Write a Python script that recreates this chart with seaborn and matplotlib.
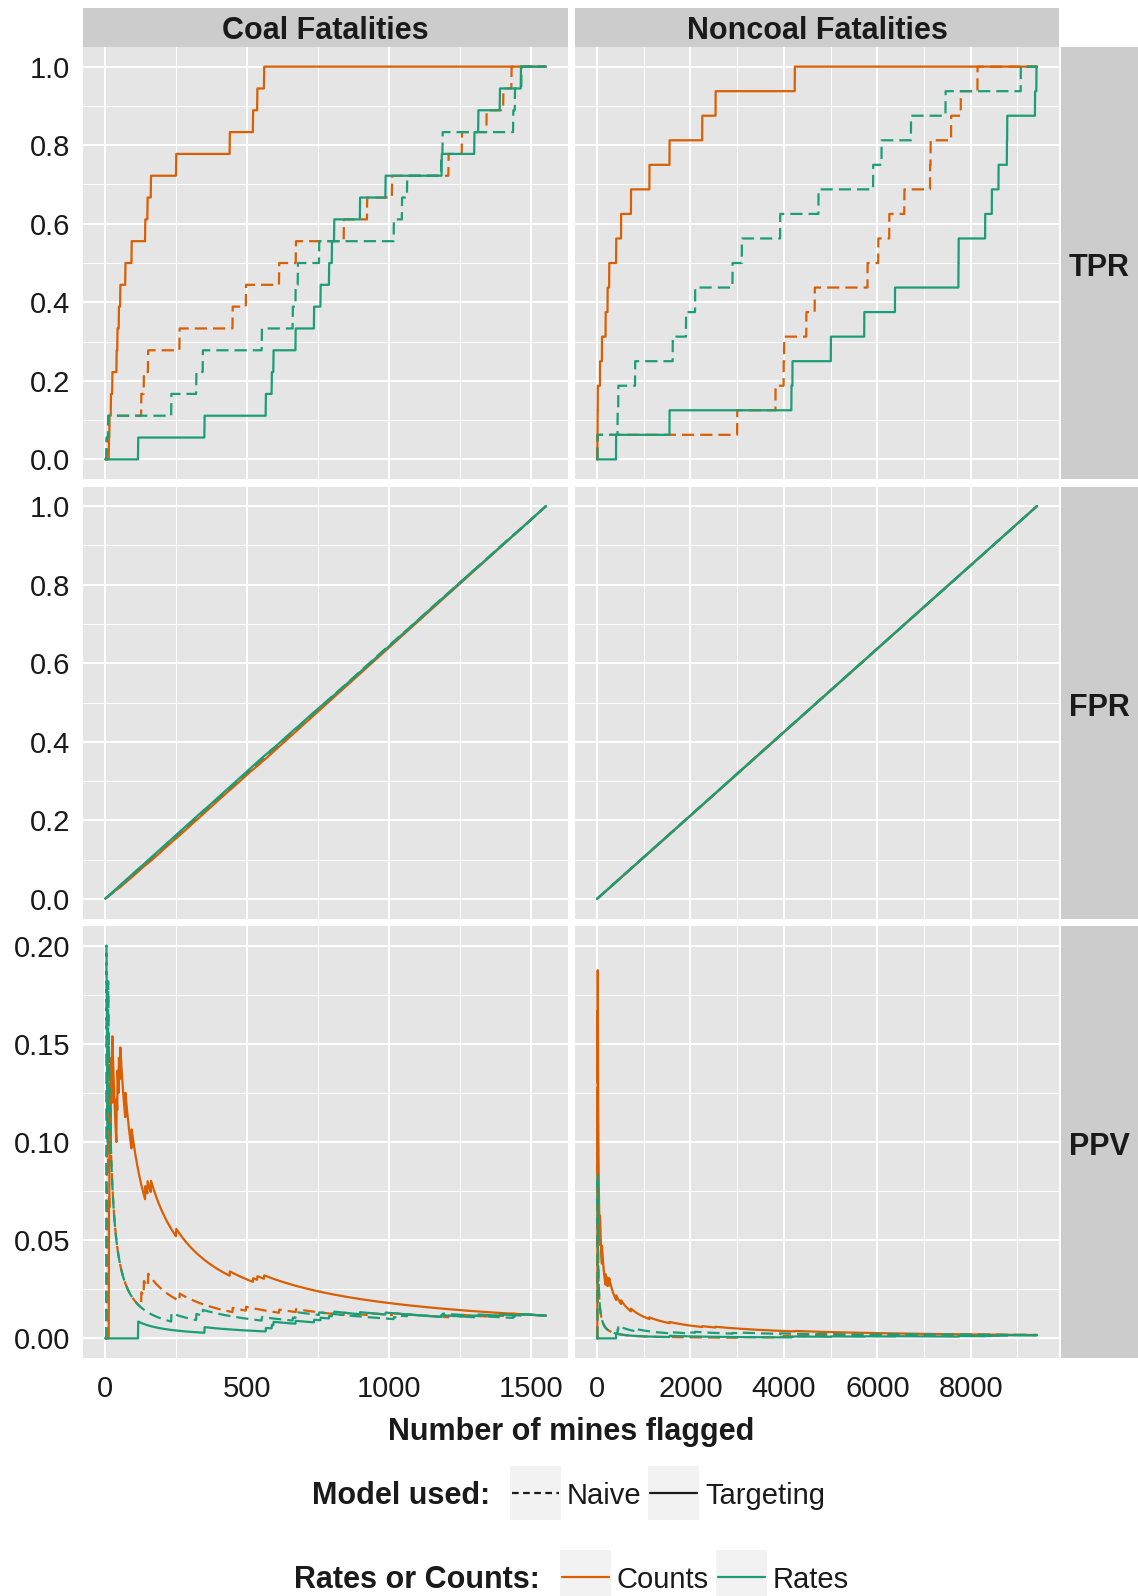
import numpy as np
import pandas as pd
import matplotlib
matplotlib.use("Agg")
import matplotlib.pyplot as plt
import seaborn as sns
from matplotlib.patches import Rectangle

# --- Data ---
# total mines per facet and the rank (number of mines flagged) at which
# each mine with a fatality is reached, per model / outcome type
facets = ["Coal Fatalities", "Noncoal Fatalities"]
n_mines = {"Coal Fatalities": 1554, "Noncoal Fatalities": 9418}

coal_targeting_counts = [14, 16, 21, 26, 41, 44, 49, 54, 72, 94, 142, 150, 162,
                         251, 440, 522, 537, 561]
coal_naive_counts = [7, 13, 128, 137, 152, 263, 450, 497, 614, 673, 842, 924,
                     1012, 1211, 1258, 1345, 1404, 1433]
coal_naive_rates = [5, 11, 234, 322, 345, 553, 662, 672, 680, 755, 1018, 1047,
                    1065, 1185, 1190, 1439, 1445, 1468]
coal_targeting_rates = [117, 351, 567, 588, 594, 672, 737, 760, 790, 800, 808,
                        899, 989, 1187, 1302, 1316, 1392, 1466]

noncoal_targeting_counts = [8, 12, 16, 64, 106, 184, 226, 261, 410, 515, 727,
                            1122, 1552, 2252, 2538, 4233]
noncoal_naive_counts = [7, 3000, 3820, 3995, 4005, 4480, 4660, 5790, 6020,
                        6256, 6578, 7129, 7140, 7579, 7786, 8144]
noncoal_naive_rates = [12, 440, 455, 815, 1620, 1905, 2100, 2900, 3100, 3920,
                       4740, 5910, 6090, 6720, 7460, 9070]
noncoal_targeting_rates = [408, 1552, 4161, 4183, 5005, 5720, 6378, 7736, 7740,
                           8308, 8451, 8594, 8773, 8780, 9375, 9405]

hits = {
    ("Coal Fatalities", "Naive", "Counts"): coal_naive_counts,
    ("Coal Fatalities", "Targeting", "Counts"): coal_targeting_counts,
    ("Coal Fatalities", "Naive", "Rates"): coal_naive_rates,
    ("Coal Fatalities", "Targeting", "Rates"): coal_targeting_rates,
    ("Noncoal Fatalities", "Naive", "Counts"): noncoal_naive_counts,
    ("Noncoal Fatalities", "Targeting", "Counts"): noncoal_targeting_counts,
    ("Noncoal Fatalities", "Naive", "Rates"): noncoal_naive_rates,
    ("Noncoal Fatalities", "Targeting", "Rates"): noncoal_targeting_rates,
}

metrics = ["TPR", "FPR", "PPV"]
x_ticks = {"Coal Fatalities": [0, 500, 1000, 1500],
           "Noncoal Fatalities": [0, 2000, 4000, 6000, 8000]}
x_minor = {"Coal Fatalities": [250, 750, 1250],
           "Noncoal Fatalities": [1000, 3000, 5000, 7000, 9000]}
y_ticks = {"TPR": [0, 0.2, 0.4, 0.6, 0.8, 1.0],
           "FPR": [0, 0.2, 0.4, 0.6, 0.8, 1.0],
           "PPV": [0, 0.05, 0.10, 0.15, 0.20]}
y_labels = {"TPR": ["0.0", "0.2", "0.4", "0.6", "0.8", "1.0"],
            "FPR": ["0.0", "0.2", "0.4", "0.6", "0.8", "1.0"],
            "PPV": ["0.00", "0.05", "0.10", "0.15", "0.20"]}
y_minor = {"TPR": [0.1, 0.3, 0.5, 0.7, 0.9],
           "FPR": [0.1, 0.3, 0.5, 0.7, 0.9],
           "PPV": [0.025, 0.075, 0.125, 0.175]}

# --- build long table: TPR / FPR / PPV as mines are flagged one by one ---
rows = []
for (facet, model, kind), ranks in hits.items():
    n = n_mines[facet]
    k = np.arange(1, n + 1)
    hit = np.zeros(n)
    hit[np.array(ranks) - 1] = 1
    tp = np.cumsum(hit)
    p = len(ranks)
    rows.append(pd.DataFrame({
        "facet": facet, "model": model, "kind": kind, "flagged": k,
        "TPR": tp / p, "FPR": (k - tp) / (n - p), "PPV": tp / k,
    }))
df = pd.concat(rows, ignore_index=True)

# --- style ---
sns.set_theme(style="darkgrid")
plt.rcParams["font.family"] = ["Liberation Sans", "DejaVu Sans"]

palette = {"Counts": "#D95F02", "Rates": "#1B9E77"}
dashes = {"Naive": (5.5, 2.7), "Targeting": ""}
W, H = 1138, 1596
fig = plt.figure(figsize=(W / 100, H / 100), dpi=100)

# overlay in pixel coords for strips and legends
ov = fig.add_axes([0, 0, 1, 1], zorder=-1)
ov.set_xlim(0, W)
ov.set_ylim(H, 0)
ov.axis("off")

col_x = [(83, 568), (575, 1059)]
row_y = [(47, 479), (486.5, 918.5), (926, 1358)]

for r, metric in enumerate(metrics):
    for c, facet in enumerate(facets):
        x0, x1 = col_x[c]
        y0, y1 = row_y[r]
        ax = fig.add_axes([x0 / W, 1 - y1 / H, (x1 - x0) / W, (y1 - y0) / H])
        sub = df[df["facet"] == facet]
        sns.lineplot(data=sub, x="flagged", y=metric, hue="kind", style="model",
                     hue_order=["Counts", "Rates"], style_order=["Naive", "Targeting"],
                     palette=palette, dashes=dashes, estimator=None, sort=False,
                     linewidth=1.6, legend=False, ax=ax)
        n = n_mines[facet]
        ax.set_xlim(-0.05 * n, 1.05 * n)
        if metric == "PPV":
            ax.set_ylim(-0.01, 0.21)
        else:
            ax.set_ylim(-0.05, 1.05)
        ax.set_facecolor("#E5E5E5")
        ax.set_xticks(x_ticks[facet])
        ax.set_xticks(x_minor[facet], minor=True)
        ax.set_yticks(y_ticks[metric])
        ax.set_yticklabels(y_labels[metric])
        ax.set_yticks(y_minor[metric], minor=True)
        ax.grid(which="major", color="white", linewidth=1.4)
        ax.grid(which="minor", color="white", linewidth=0.7)
        ax.set_axisbelow(True)
        for s in ax.spines.values():
            s.set_visible(False)
        ax.set_xlabel("")
        ax.set_ylabel("")
        ax.tick_params(which="major", length=5, width=1.1, color="#666666",
                       labelsize=21, labelcolor="#1A1A1A", pad=4)
        ax.tick_params(axis="x", pad=7)
        ax.tick_params(which="minor", length=0)
        if r < 2:
            ax.tick_params(axis="x", bottom=False, labelbottom=False)
        if c == 1:
            ax.tick_params(axis="y", left=False, labelleft=False)

# facet strips
for c, facet in enumerate(facets):
    x0, x1 = col_x[c]
    ov.add_patch(Rectangle((x0, 8), x1 - x0, 39, color="#CCCCCC", lw=0))
    ov.text((x0 + x1) / 2, 31, facet, ha="center", va="center",
            fontsize=22, fontweight="bold", color="#1A1A1A")
for r, metric in enumerate(metrics):
    y0, y1 = row_y[r]
    ov.add_patch(Rectangle((1061, y0), W - 1061, y1 - y0, color="#CCCCCC", lw=0))
    ov.text(1099, (y0 + y1) / 2 + 5, metric, ha="center", va="center",
            fontsize=22, fontweight="bold", color="#1A1A1A")

# axis title
ov.text(571, 1432, "Number of mines flagged", ha="center", va="center",
        fontsize=22, fontweight="bold", color="#1A1A1A")

# legends
def legend_row(yc, title, title_right, keys):
    base = yc + 10.5
    ov.text(title_right, base, title, ha="right", va="baseline",
            fontsize=22, fontweight="bold", color="#1A1A1A")
    for kx, label, color, ls in keys:
        ov.add_patch(Rectangle((kx, yc - 27), 51, 54, color="#F2F2F2", lw=0))
        ov.plot([kx + 2, kx + 49], [yc, yc], color=color, lw=1.6,
                linestyle=ls, dashes=(3, 2) if ls == "--" else (None, None))
        ov.text(kx + 57, base, label, ha="left", va="baseline",
                fontsize=21, color="#1A1A1A")

legend_row(1493, "Model used:", 490,
           [(510, "Naive", "#1A1A1A", "--"), (648, "Targeting", "#1A1A1A", "-")])
legend_row(1577, "Rates or Counts:", 540,
           [(560, "Counts", palette["Counts"], "-"), (716, "Rates", palette["Rates"], "-")])

fig.savefig("out.png", dpi=100, facecolor="white")
